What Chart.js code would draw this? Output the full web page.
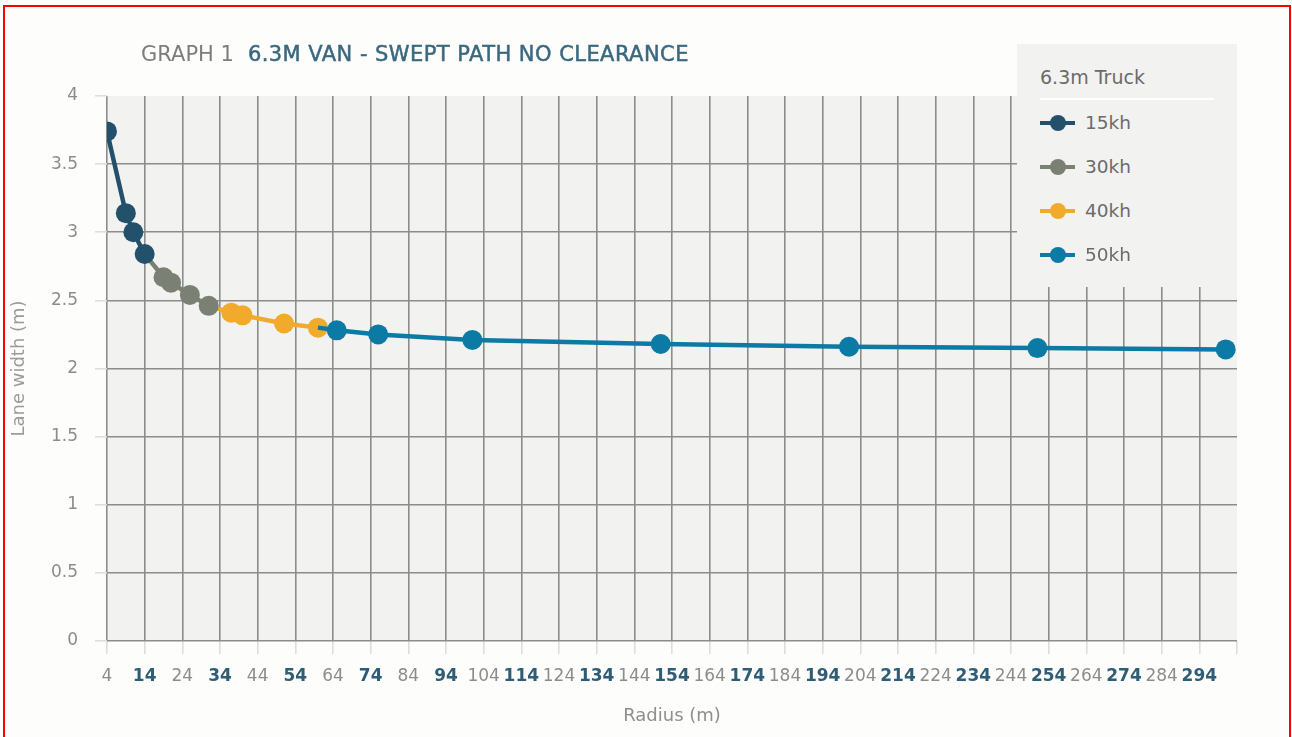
<!DOCTYPE html>
<html>
<head>
  <meta charset="UTF-8">
  <title>Graph 1 - 6.3m Van swept path</title>
  <script src="https://cdn.jsdelivr.net/npm/chart.js"></script>
  <style>
    html, body { margin: 0; padding: 0; background: #fdfdfb; }
    body { width: 1292px; height: 737px; position: relative; overflow: hidden; font-family: "DejaVu Sans", sans-serif; }
    #frame { position: absolute; left: 3px; top: 5px; width: 1284px; height: 760px; border: 2px solid #ff0000; }
    #wrap { position: absolute; left: 0; top: 0; width: 1292px; height: 737px; }
    #title { position: absolute; left: 141px; top: 42px; font-size: 21px; line-height: 24px; white-space: nowrap; }
    #title .num { color: #7d7d7d; }
    #title .name { color: #3a687f; -webkit-text-stroke: 0.5px #3a687f; margin-left: 14px; letter-spacing: 0.45px; }
    #legend { position: absolute; left: 1017px; top: 44px; width: 220px; height: 243px; background: #f2f2f1; }
    #legend .head { position: absolute; left: 23px; top: 21px; font-size: 19px; line-height: 24px; color: #6b6b6b; }
    #legend .rule { position: absolute; left: 23px; top: 54px; width: 174px; height: 2px; background: #fff; }
    #legend .item { position: absolute; left: 23px; height: 24px; width: 180px; }
    #legend .item .ln { position: absolute; left: 0; top: 10px; width: 35px; height: 4px; }
    #legend .item .dot { position: absolute; left: 10px; top: 4px; width: 16px; height: 16px; border-radius: 50%; }
    #legend .item .lbl { position: absolute; left: 45px; top: 0; font-size: 18.5px; line-height: 24px; color: #6b6b6b; }
  </style>
</head>
<body>
  <div id="wrap"><canvas id="chart" width="1292" height="737"></canvas></div>
  <div id="title"><span class="num">GRAPH 1</span><span class="name">6.3M VAN - SWEPT PATH NO CLEARANCE</span></div>
  <div id="legend">
    <div class="head">6.3m Truck</div>
    <div class="rule"></div>
  </div>
  <div id="frame"></div>

  <script>
    // radius (m) vs lane width (m), one array pair per speed
    const seriesNames = ['15kh', '30kh', '40kh', '50kh'];
    const seriesColors = ['#23506b', '#7b8074', '#f2aa2c', '#0b7aa5'];

    const radius15 = [4, 9, 11, 14];
    const width15  = [3.74, 3.14, 3.0, 2.84];
    const radius30 = [19, 21, 26, 31];
    const width30  = [2.67, 2.63, 2.54, 2.46];
    const radius40 = [37, 40, 51, 60];
    const width40  = [2.41, 2.39, 2.33, 2.30];
    const radius50 = [65, 76, 101, 151, 201, 251, 301];
    const width50  = [2.28, 2.25, 2.21, 2.18, 2.16, 2.15, 2.14];

    const xMin = 4, xMax = 304, xStep = 10;
    const yMin = 0, yMax = 4, yStep = 0.5;

    const radii = [radius15, radius30, radius40, radius50];
    const widths = [width15, width30, width40, width50];

    const FONT = 'DejaVu Sans';

    // each speed's line starts from the last point of the slower one
    const datasets = seriesNames.map((name, i) => {
      let pts = radii[i].map((r, k) => ({ x: r, y: widths[i][k] }));
      const joined = i > 0;
      if (joined) {
        const prevR = radii[i - 1], prevW = widths[i - 1];
        pts = [{ x: prevR[prevR.length - 1], y: prevW[prevW.length - 1] }].concat(pts);
      }
      return {
        label: name,
        data: pts,
        borderColor: seriesColors[i],
        backgroundColor: seriesColors[i],
        pointBackgroundColor: seriesColors[i],
        pointBorderWidth: 0,
        borderWidth: 4.5,
        pointRadius: c => (joined && c.index === 0) ? 0 : 10,
        pointHoverRadius: 10,
        tension: 0,
        order: i === seriesNames.length - 1 ? 0 : i + 1
      };
    });

    // html legend
    const legend = document.getElementById('legend');
    seriesNames.forEach((name, i) => {
      const row = document.createElement('div');
      row.className = 'item';
      row.style.top = (67 + i * 44) + 'px';
      row.innerHTML = '<span class="ln" style="background:' + seriesColors[i] + '"></span>' +
        '<span class="dot" style="background:' + seriesColors[i] + '"></span>' +
        '<span class="lbl">' + name + '</span>';
      legend.appendChild(row);
    });

    const plotBg = {
      id: 'plotBg',
      beforeDraw(chart) {
        const a = chart.chartArea, c = chart.ctx;
        c.save();
        c.fillStyle = '#f2f2f0';
        c.fillRect(a.left, a.top, a.right - a.left, a.bottom - a.top);
        c.restore();
      }
    };

    const gridCol = '#8c8c8c';

    new Chart(document.getElementById('chart'), {
      type: 'line',
      data: { datasets },
      plugins: [plotBg],
      options: {
        responsive: false,
        animation: false,
        layout: { padding: { left: 5, top: 96, right: 55, bottom: 6 } },
        plugins: { legend: { display: false }, tooltip: { enabled: false } },
        scales: {
          x: {
            type: 'linear',
            min: xMin, max: xMax,
            afterFit: s => { s.height = 90; },
            border: { display: false },
            grid: {
              color: c => c.tick && c.tick.value === xMax ? 'rgba(0,0,0,0)' : gridCol,
              lineWidth: 1.6,
              tickLength: 13,
              tickColor: '#dedede'
            },
            ticks: {
              stepSize: xStep,
              autoSkip: false,
              maxRotation: 0,
              padding: 12,
              callback: v => v === xMax ? '' : String(v),
              color: c => c.index % 2 ? '#2f5d75' : '#8c8c8c',
              font: c => ({ family: FONT, size: 17, weight: c.index % 2 ? 'bold' : 'normal' })
            },
            title: {
              display: true,
              text: 'Radius (m)',
              color: '#8f8f8f',
              font: { family: FONT, size: 18 }
            }
          },
          y: {
            min: yMin, max: yMax,
            afterFit: s => { s.width = 102; },
            border: { display: false },
            grid: {
              color: c => c.tick && c.tick.value === yMax ? 'rgba(0,0,0,0)' : gridCol,
              lineWidth: 1.6,
              tickLength: 12,
              tickColor: '#dedede'
            },
            ticks: {
              stepSize: yStep,
              padding: 17,
              callback: v => String(v),
              color: '#8c8c8c',
              font: { family: FONT, size: 17 }
            },
            title: {
              display: true,
              text: 'Lane width (m)',
              color: '#9b9b9b',
              font: { family: FONT, size: 18 }
            }
          }
        }
      }
    });
  </script>
</body>
</html>
